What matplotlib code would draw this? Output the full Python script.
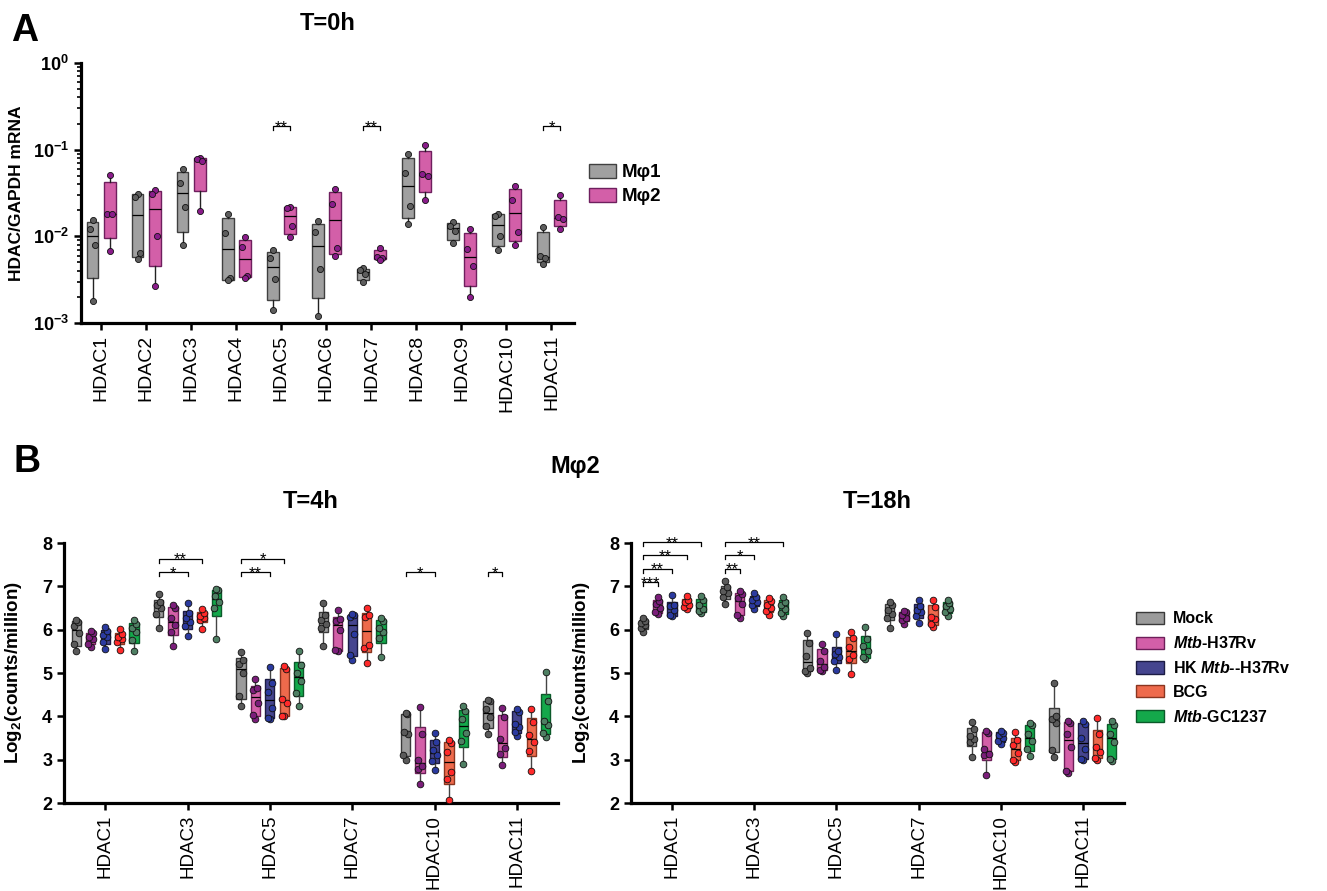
import numpy as np
import matplotlib
matplotlib.use('Agg')
import matplotlib.pyplot as plt
from matplotlib.patches import Patch
from matplotlib.ticker import LogLocator, FixedLocator, FixedFormatter, NullFormatter

plt.rcParams['font.family'] = ['Liberation Sans', 'DejaVu Sans']
plt.rcParams['mathtext.fontset'] = 'custom'
plt.rcParams['mathtext.rm'] = 'Liberation Sans:bold'
plt.rcParams['mathtext.it'] = 'Liberation Sans:italic:bold'
plt.rcParams['mathtext.bf'] = 'Liberation Sans:bold'

# ---------------- panel A data (HDAC/GAPDH, 4 donors) ----------------
genes_a = ['HDAC1', 'HDAC2', 'HDAC3', 'HDAC4', 'HDAC5', 'HDAC6',
           'HDAC7', 'HDAC8', 'HDAC9', 'HDAC10', 'HDAC11']
a_m1 = [
    [0.0153, 0.0122, 0.0079, 0.0018],
    [0.0311, 0.0284, 0.0065, 0.0055],
    [0.0593, 0.0409, 0.0216, 0.0079],
    [0.0183, 0.0109, 0.0033, 0.0031],
    [0.0070, 0.0056, 0.0032, 0.0014],
    [0.0149, 0.0112, 0.0042, 0.0012],
    [0.0043, 0.0041, 0.0037, 0.0030],
    [0.0899, 0.0543, 0.0224, 0.0140],
    [0.0147, 0.0132, 0.0115, 0.0083],
    [0.0183, 0.0170, 0.0101, 0.0070],
    [0.0129, 0.0060, 0.0056, 0.0048],
]
a_m2 = [
    [0.0506, 0.0183, 0.0180, 0.0068],
    [0.0345, 0.0311, 0.0101, 0.0027],
    [0.0801, 0.0774, 0.0747, 0.0196],
    [0.0097, 0.0075, 0.0035, 0.0033],
    [0.0218, 0.0213, 0.0130, 0.0098],
    [0.0348, 0.0238, 0.0073, 0.0060],
    [0.0073, 0.0057, 0.0056, 0.0054],
    [0.1120, 0.0519, 0.0497, 0.0265],
    [0.0122, 0.0071, 0.0046, 0.0020],
    [0.0377, 0.0260, 0.0112, 0.0080],
    [0.0297, 0.0167, 0.0158, 0.0121],
]
a_sig = [(4, 0.186, '**'), (6, 0.186, '**'), (10, 0.186, '*')]

# ---------------- panel B data (log2 CPM, 6 donors) ----------------
genes_b = ['HDAC1', 'HDAC3', 'HDAC5', 'HDAC7', 'HDAC10', 'HDAC11']
groups_b = ['Mock', '$Mtb$-H37Rv', 'HK $Mtb$--H37Rv', 'BCG', '$Mtb$-GC1237']

t4_mock = [[5.50, 5.66, 5.92, 6.08, 6.18, 6.23],
           [6.05, 6.37, 6.50, 6.58, 6.65, 6.83],
           [4.25, 4.46, 5.00, 5.20, 5.30, 5.48],
           [5.63, 6.05, 6.12, 6.22, 6.35, 6.62],
           [3.00, 3.10, 3.60, 3.64, 4.05, 4.08],
           [3.60, 3.78, 3.98, 4.18, 4.35, 4.38]]
t4_h37rv = [[5.60, 5.68, 5.78, 5.84, 5.92, 5.97],
            [5.63, 5.95, 6.10, 6.26, 6.50, 6.57],
            [3.95, 4.04, 4.30, 4.60, 4.66, 4.86],
            [5.51, 5.52, 6.00, 6.20, 6.24, 6.45],
            [2.43, 2.78, 2.86, 3.00, 3.60, 4.22],
            [2.87, 3.14, 3.28, 3.48, 3.98, 4.19]]
t4_hk = [[5.56, 5.72, 5.82, 5.88, 5.96, 6.06],
         [5.86, 6.08, 6.18, 6.26, 6.38, 6.61],
         [3.95, 3.96, 4.20, 4.56, 4.78, 5.14],
         [5.31, 5.42, 5.90, 6.30, 6.33, 6.36],
         [2.77, 2.96, 3.10, 3.22, 3.40, 3.62],
         [3.55, 3.65, 3.75, 3.82, 4.10, 4.18]]
t4_bcg = [[5.54, 5.72, 5.78, 5.84, 5.90, 6.01],
          [6.02, 6.22, 6.28, 6.32, 6.38, 6.47],
          [4.00, 4.01, 4.30, 4.40, 5.10, 5.16],
          [5.24, 5.58, 5.65, 6.30, 6.35, 6.50],
          [2.06, 2.55, 2.72, 3.18, 3.38, 3.45],
          [2.74, 3.20, 3.40, 3.56, 3.88, 4.17]]
t4_gc = [[5.50, 5.76, 5.95, 6.05, 6.12, 6.22],
         [5.79, 6.50, 6.65, 6.78, 6.92, 6.94],
         [4.25, 4.55, 4.82, 5.00, 5.18, 5.50],
         [5.38, 5.80, 5.95, 6.05, 6.20, 6.27],
         [2.89, 3.42, 3.62, 3.95, 4.12, 4.23],
         [3.52, 3.62, 3.80, 3.90, 4.35, 5.02]]

t18_mock = [[5.95, 6.05, 6.10, 6.15, 6.20, 6.26],
            [6.60, 6.75, 6.84, 6.90, 6.98, 7.12],
            [5.00, 5.05, 5.12, 5.40, 5.70, 5.92],
            [6.05, 6.28, 6.36, 6.45, 6.58, 6.63],
            [3.06, 3.40, 3.48, 3.55, 3.70, 3.86],
            [3.06, 3.22, 3.85, 3.95, 4.00, 4.78]]
t18_h37rv = [[6.37, 6.40, 6.50, 6.60, 6.66, 6.76],
             [6.28, 6.35, 6.60, 6.72, 6.82, 6.90],
             [5.05, 5.08, 5.14, 5.28, 5.50, 5.68],
             [6.12, 6.22, 6.28, 6.34, 6.40, 6.44],
             [2.64, 3.10, 3.14, 3.25, 3.62, 3.67],
             [2.70, 2.74, 3.30, 3.60, 3.85, 3.90]]
t18_hk = [[6.31, 6.33, 6.46, 6.55, 6.58, 6.81],
          [6.48, 6.58, 6.63, 6.68, 6.76, 6.84],
          [5.06, 5.28, 5.38, 5.45, 5.50, 5.90],
          [6.15, 6.32, 6.40, 6.45, 6.55, 6.69],
          [3.37, 3.42, 3.50, 3.56, 3.62, 3.66],
          [2.99, 3.02, 3.25, 3.50, 3.82, 3.90]]
t18_bcg = [[6.48, 6.52, 6.58, 6.64, 6.68, 6.78],
           [6.35, 6.42, 6.50, 6.56, 6.66, 6.72],
           [4.97, 5.33, 5.42, 5.60, 5.80, 5.95],
           [6.06, 6.12, 6.25, 6.30, 6.52, 6.68],
           [2.94, 3.00, 3.15, 3.35, 3.45, 3.63],
           [2.99, 3.04, 3.18, 3.30, 3.60, 3.97]]
t18_gc = [[6.38, 6.42, 6.48, 6.56, 6.68, 6.77],
          [6.31, 6.38, 6.48, 6.58, 6.65, 6.76],
          [5.33, 5.36, 5.50, 5.62, 5.78, 6.06],
          [6.31, 6.40, 6.48, 6.55, 6.62, 6.68],
          [3.08, 3.24, 3.42, 3.60, 3.80, 3.84],
          [2.98, 3.02, 3.40, 3.60, 3.80, 3.90]]

# (gene index, group a, group b, bracket height, stars)
t4_sig = [(1, 0, 2, 7.33, '*'), (1, 0, 3, 7.64, '**'),
          (2, 0, 2, 7.33, '**'), (2, 0, 3, 7.64, '*'),
          (4, 0, 2, 7.33, '*'), (5, 0, 1, 7.33, '*')]
t18_sig = [(0, 0, 1, 7.10, '***'), (0, 0, 2, 7.41, '**'),
           (0, 0, 3, 7.72, '**'), (0, 0, 4, 8.02, '**'),
           (1, 0, 1, 7.41, '**'), (1, 0, 2, 7.72, '*'), (1, 0, 4, 8.02, '**')]

# ---------------- styles ----------------
a_face = ['#a0a0a0', '#d35fa8']
a_edge = ['#404040', '#6e1f5e']
a_dot = ['#5e5e5e', '#8a1c8a']

b_face = ['#9b9b9b', '#d35fa8', '#45458f', '#ee6a4c', '#14a84b']
b_edge = ['#3a3a3a', '#6e1f5a', '#1c1c44', '#8a3520', '#0b5a2a']
b_dot = ['#5a5a5a', '#7b1e7a', '#2b3a9f', '#ff2a2a', '#4e7f63']

jit4 = [0.0, -0.22, 0.22, 0.0]
jit6 = [0.0, -0.25, 0.25, -0.2, 0.2, 0.0]
SPINE = 2.3


def q_stats(vals):
    v = np.sort(np.asarray(vals, float))
    q1, med, q3 = np.percentile(v, [25, 50, 75], method='weibull')
    return dict(med=med, q1=q1, q3=q3, whislo=v[0], whishi=v[-1], fliers=[])


def draw_box(ax, pos, vals, width, face, edge, dot, ms, jit, wcol):
    ax.bxp([q_stats(vals)], positions=[pos], widths=width, patch_artist=True,
           showcaps=False, showfliers=False, manage_ticks=False,
           boxprops=dict(facecolor=face, edgecolor=edge, linewidth=1.0),
           medianprops=dict(color='black', linewidth=0.9),
           whiskerprops=dict(color=wcol, linewidth=1.0))
    xs = pos + np.array(jit[:len(vals)]) * width
    ax.plot(xs, vals, 'o', ms=ms, mfc=dot, mec='#111111', mew=0.6,
            zorder=4, clip_on=False)


def bracket(ax, x1, x2, y, ylow, label, fs=12):
    ax.plot([x1, x1, x2, x2], [ylow, y, y, ylow], color='black', lw=0.9,
            clip_on=False, zorder=5)
    ax.annotate(label, ((x1 + x2) / 2, y), xytext=(0, -0.36 * fs),
                textcoords='offset points', ha='center', va='baseline',
                fontsize=fs, annotation_clip=False)


def style_axes(ax):
    for s in ['top', 'right']:
        ax.spines[s].set_visible(False)
    for s in ['left', 'bottom']:
        ax.spines[s].set_linewidth(SPINE)
    ax.tick_params(axis='both', which='major', width=1.8, length=5, direction='out')


fig = plt.figure(figsize=(13.27, 8.91), dpi=100)
W, H = 1327.0, 891.0


def px_axes(l, r, t, b):
    return fig.add_axes([l / W, 1 - b / H, (r - l) / W, (b - t) / H])


# ---------------- panel A ----------------
axA = px_axes(81, 574, 63, 323)
style_axes(axA)
xa = np.arange(len(genes_a))
for i in range(len(genes_a)):
    draw_box(axA, xa[i] - 0.19, a_m1[i], 0.255, a_face[0], a_edge[0], a_dot[0], 4.4, jit4, '#222222')
    draw_box(axA, xa[i] + 0.19, a_m2[i], 0.255, a_face[1], a_edge[1], a_dot[1], 4.4, jit4, '#222222')
for gi, y, lab in a_sig:
    bracket(axA, xa[gi] - 0.19, xa[gi] + 0.19, y, y / 1.09, lab)
axA.set_yscale('log')
axA.set_ylim(1e-3, 1)
axA.set_xlim(-0.45, 10.5)
axA.yaxis.set_major_locator(FixedLocator([1e-3, 1e-2, 1e-1, 1]))
axA.yaxis.set_major_formatter(FixedFormatter(['10$^{-3}$', '10$^{-2}$', '10$^{-1}$', '10$^{0}$']))
axA.yaxis.set_minor_locator(LogLocator(base=10, subs=np.arange(2, 10)))
axA.yaxis.set_minor_formatter(NullFormatter())
axA.tick_params(axis='y', which='minor', width=1.2, length=3)
axA.set_xticks(xa)
axA.set_xticklabels(genes_a, rotation=90, fontsize=14)
for t in axA.get_yticklabels():
    t.set_fontsize(13)
    t.set_fontweight('bold')
axA.set_ylabel('HDAC/GAPDH mRNA', fontsize=12.5, fontweight='bold')
axA.yaxis.set_label_coords(-0.115, 0.5)
axA.set_title('T=0h', fontsize=17, fontweight='bold', pad=24)

fig.legend([Patch(facecolor=a_face[k], edgecolor=a_edge[k], linewidth=1.0) for k in range(2)],
           ['M\u03c61', 'M\u03c62'], loc='center left',
           bbox_to_anchor=(589 / W, 1 - 184.5 / H), frameon=False,
           prop=dict(weight='bold', size=13.5), handlelength=1.45, handleheight=0.75,
           labelspacing=0.35, handletextpad=0.3, borderpad=0, borderaxespad=0)

# ---------------- panel B ----------------
xb = np.arange(len(genes_b))
offs = (np.arange(5) - 2) * 0.176


def panel_b(ax, series, sig, title):
    style_axes(ax)
    for gi in range(len(genes_b)):
        for k, ser in enumerate(series):
            draw_box(ax, xb[gi] + offs[k], ser[gi], 0.113, b_face[k], b_edge[k], b_dot[k],
                     4.8, jit6, '#444444')
    for gi, g1, g2, y, lab in sig:
        bracket(ax, xb[gi] + offs[g1], xb[gi] + offs[g2], y, y - 0.1, lab)
    ax.set_ylim(2, 8)
    ax.set_xlim(-0.5, 5.5)
    ax.set_yticks(range(2, 9))
    ax.set_xticks(xb)
    ax.set_xticklabels(genes_b, rotation=90, fontsize=13.5)
    for t in ax.get_yticklabels():
        t.set_fontsize(13)
        t.set_fontweight('bold')
    ax.set_ylabel('Log$_2$(counts/million)', fontsize=13.5, fontweight='bold')
    ax.yaxis.set_label_coords(-0.08, 0.5)
    ax.set_title(title, fontsize=17, fontweight='bold', pad=25)


axB1 = px_axes(64, 558, 543, 803)
panel_b(axB1, [t4_mock, t4_h37rv, t4_hk, t4_bcg, t4_gc], t4_sig, 'T=4h')
axB2 = px_axes(631, 1124, 543, 803)
panel_b(axB2, [t18_mock, t18_h37rv, t18_hk, t18_bcg, t18_gc], t18_sig, 'T=18h')

fig.legend([Patch(facecolor=b_face[k], edgecolor=b_edge[k], linewidth=1.0) for k in range(5)],
           groups_b, loc='center left', bbox_to_anchor=(1136 / W, 1 - 668 / H),
           frameon=False, prop=dict(weight='bold', size=11.5), handlelength=1.75,
           handleheight=0.8, labelspacing=0.55, handletextpad=0.55, borderpad=0,
           borderaxespad=0)

fig.text(575 / W, 1 - 467 / H, 'M\u03c62', fontsize=17, fontweight='bold', ha='center', va='center')
fig.text(11 / W, 1 - 41 / H, 'A', fontsize=27, fontweight='bold', ha='left', va='baseline')
fig.text(13 / W, 1 - 472 / H, 'B', fontsize=27, fontweight='bold', ha='left', va='baseline')

fig.savefig('out.png', dpi=100)
